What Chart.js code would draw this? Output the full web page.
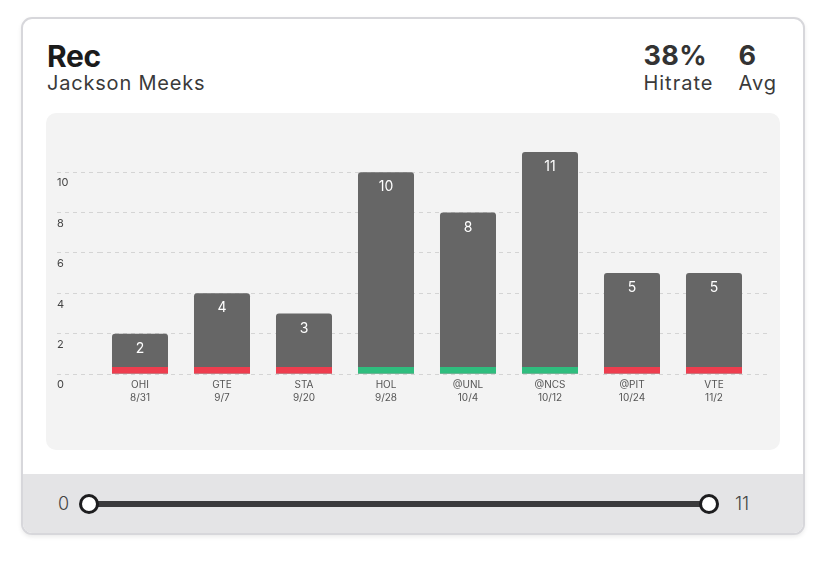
<!DOCTYPE html>
<html>
<head>
<meta charset="utf-8">
<script src="https://cdn.jsdelivr.net/npm/chart.js@4/dist/chart.umd.min.js"></script>
<style>
  html, body { margin: 0; padding: 0; background: #ffffff; }
  body { width: 824px; height: 564px; position: relative; font-family: Inter, "Noto Sans", sans-serif; overflow: hidden; }
  .card { position: absolute; left: 21px; top: 17px; width: 784px; height: 518px; box-sizing: border-box;
          border: 2px solid #d7d7db; border-radius: 11px; overflow: hidden; background: #fff;
          box-shadow: 0 2px 4px rgba(0,0,0,0.08); }
  .title { position: absolute; left: 24px; top: 22px; font-size: 30px; font-weight: 700; color: #1b1b1b; line-height: 30px; letter-spacing: -0.3px; }
  .sub { position: absolute; left: 24px; top: 52px; font-size: 20px; color: #3a3a3a; line-height: 24px; letter-spacing: 0.8px; }
  .stats { position: absolute; right: 26px; top: 22px; display: flex; gap: 25px; }
  .stat .v { font-size: 27px; font-weight: 700; color: #333; line-height: 30px; letter-spacing: 0.4px; }
  .stat .l { font-size: 20px; color: #3a3a3a; line-height: 24px; margin-top: 0px; letter-spacing: 1px; }
  .panel { position: absolute; left: 23px; top: 94px; width: 734px; height: 337px; background: #f3f3f3; border-radius: 10px; }
  .footer { position: absolute; left: 0; right: 0; top: 455px; bottom: 0; background: #e4e4e6; }
  .slabel { position: absolute; font-size: 18px; color: #444; line-height: 20px; font-weight: 300; }
  .track { position: absolute; left: 66px; width: 620px; top: 482px; height: 6px; background: #3a3a3c; }
  .thumb { position: absolute; width: 14px; height: 14px; border: 3px solid #1d1d1f; border-radius: 50%; background: #fff; top: 475px; }
</style>
</head>
<body>
<div class="card">
  <div class="title">Rec</div>
  <div class="sub">Jackson Meeks</div>
  <div class="stats">
    <div class="stat"><div class="v" id="hitrate">38%</div><div class="l">Hitrate</div></div>
    <div class="stat"><div class="v" id="avg">6</div><div class="l">Avg</div></div>
  </div>
  <div class="panel"><canvas id="c" width="734" height="337"></canvas></div>
  <div class="footer"></div>
  <div class="slabel" style="left:35px; top:475px;">0</div>
  <div class="track"></div>
  <div class="thumb" style="left:56px;"></div>
  <div class="thumb" style="left:676px;"></div>
  <div class="slabel" style="left:712px; top:475px;">11</div>
</div>
<script>
const opponents = ['OHI', 'GTE', 'STA', 'HOL', '@UNL', '@NCS', '@PIT', 'VTE'];
const dates = ['8/31', '9/7', '9/20', '9/28', '10/4', '10/12', '10/24', '11/2'];
const receptions = [2, 4, 3, 10, 8, 11, 5, 5];
const propLine = 6.5;
const yTicksStep = 2;

const labels = opponents.map((o, i) => [o, dates[i]]);
const hitColors = receptions.map(v => v > propLine ? '#2fbd7e' : '#ee3d4e');
const stripUnits = 0.35;
const yMax = Math.max(...receptions);

const valueLabels = {
  id: 'valueLabels',
  afterDatasetsDraw(chart) {
    const meta = chart.getDatasetMeta(1);
    const ctx = chart.ctx;
    ctx.save();
    ctx.fillStyle = '#ffffff';
    ctx.font = '14px Inter, "Noto Sans", sans-serif';
    ctx.textAlign = 'center';
    ctx.textBaseline = 'middle';
    meta.data.forEach((bar, i) => {
      ctx.fillText(String(receptions[i]), bar.x, bar.y + 15);
    });
    ctx.restore();
  }
};

const gridCommon = {
  color: '#d4d4d4',
  tickColor: '#d4d4d4',
  lineWidth: 1,
  tickWidth: 1,
};

new Chart(document.getElementById('c'), {
  type: 'bar',
  data: {
    labels,
    datasets: [
      {
        data: receptions.map(() => stripUnits),
        backgroundColor: hitColors,
        grouped: false,
        categoryPercentage: 1,
        barPercentage: 0.683,
        borderRadius: 0,
      },
      {
        data: receptions,
        backgroundColor: '#666666',
        grouped: false,
        categoryPercentage: 1,
        barPercentage: 0.683,
        borderRadius: { topLeft: 3, topRight: 3 },
        borderSkipped: 'start',
      }
    ]
  },
  options: {
    responsive: false,
    animation: false,
    events: [],
    layout: { padding: { left: 11, right: 13, top: 39, bottom: 36 } },
    plugins: { legend: { display: false }, tooltip: { enabled: false } },
    scales: {
      x: {
        offset: true,
        grid: { display: false, drawTicks: false },
        border: { display: false },
        ticks: {
          color: '#555555',
          font: { size: 10, family: 'Inter, "Noto Sans", sans-serif', lineHeight: 1.3 },
          padding: 4,
          maxRotation: 0,
          autoSkip: false,
        },
        afterFit(s) { s.height = 40; }
      },
      y: {
        position: 'left',
        min: 0,
        max: yMax,
        border: { display: false, dash: [4, 4] },
        grid: Object.assign({}, gridCommon, { drawTicks: true, tickLength: 42, tickBorderDash: [4, 4] }),
        ticks: {
          stepSize: yTicksStep,
          includeBounds: false,
          crossAlign: 'far',
          labelOffset: 11,
          padding: 0,
          color: '#444444',
          font: { size: 11, family: 'Inter, "Noto Sans", sans-serif' },
        },
        afterFit(s) { s.width = 42; }
      },
      y2: {
        position: 'right',
        min: 0,
        max: yMax,
        border: { display: false, dash: [4, 4] },
        grid: Object.assign({}, gridCommon, { drawOnChartArea: false, drawTicks: true, tickLength: 12, tickBorderDash: [4, 4] }),
        ticks: { display: false, stepSize: yTicksStep, includeBounds: false },
        afterFit(s) { s.width = 12; }
      }
    }
  },
  plugins: [valueLabels]
});
</script>
</body>
</html>
